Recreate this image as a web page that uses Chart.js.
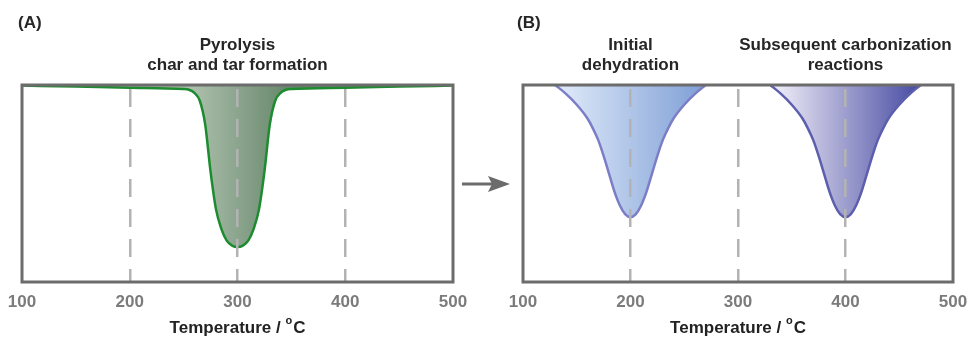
<!DOCTYPE html>
<html>
<head>
<meta charset="utf-8">
<script src="https://cdn.jsdelivr.net/npm/chart.js@4"></script>
<style>
  html, body { margin: 0; padding: 0; background: #fff; }
  #wrap { position: relative; width: 969px; height: 337px; }
  #wrap canvas, #wrap svg { position: absolute; top: 0; }
</style>
</head>
<body>
<div id="wrap">
  <canvas id="panelA" width="485" height="337" style="left:0"></canvas>
  <canvas id="panelB" width="484" height="337" style="left:485px"></canvas>
  <svg width="60" height="30" style="left:455px;top:169px">
    <line x1="7" y1="15" x2="38" y2="15" stroke="#6b6b6b" stroke-width="3"/>
    <polygon points="33,7 55,15 33,23 37,15" fill="#6b6b6b"/>
  </svg>
</div>
<script>
// temperature axis
const tempTicks = [100, 200, 300, 400, 500]

// (A) pyrolysis peak
const tempsA = [100, 150, 200, 250, 255, 260, 265, 270, 275, 280, 285, 290, 295, 300,
  305, 310, 315, 320, 325, 330, 335, 340, 345, 350, 400, 450, 500]
const signalA = [0.997, 0.992, 0.986, 0.98, 0.976, 0.96, 0.92, 0.80, 0.56, 0.37, 0.27, 0.21, 0.185, 0.178,
  0.185, 0.21, 0.27, 0.37, 0.56, 0.80, 0.92, 0.96, 0.976, 0.98, 0.986, 0.992, 0.997]

// (B) dehydration peak
const tempsB1 = [120, 130, 140, 150, 160, 165, 170, 175, 180, 185, 190, 195, 200,
  205, 210, 215, 220, 225, 230, 235, 240, 250, 260, 270, 280]
const signalB1 = [1.045, 1.0, 0.955, 0.90, 0.83, 0.78, 0.72, 0.64, 0.55, 0.46, 0.39, 0.345, 0.33,
  0.345, 0.39, 0.46, 0.55, 0.64, 0.72, 0.78, 0.83, 0.90, 0.955, 1.0, 1.045]

// (B) carbonization peak
const tempsB2 = [320, 330, 340, 350, 360, 365, 370, 375, 380, 385, 390, 395, 400,
  405, 410, 415, 420, 425, 430, 435, 440, 450, 460, 470, 480]
const signalB2 = [1.045, 1.0, 0.955, 0.90, 0.83, 0.78, 0.72, 0.64, 0.55, 0.46, 0.39, 0.345, 0.33,
  0.345, 0.39, 0.46, 0.55, 0.64, 0.72, 0.78, 0.83, 0.90, 0.955, 1.0, 1.045]

const FONT = '"Liberation Sans", Arial, Helvetica, sans-serif'

function toPoints(xs, ys) {
  return xs.map((x, i) => ({ x: x, y: ys[i] }))
}

// horizontal gradient between two temperatures
function sideGradient(from, to, c0, c1) {
  return (context) => {
    const chart = context.chart
    if (!chart.chartArea) return c0
    const x = chart.scales.x
    const g = chart.ctx.createLinearGradient(x.getPixelForValue(from), 0, x.getPixelForValue(to), 0)
    g.addColorStop(0, c0)
    g.addColorStop(1, c1)
    return g
  }
}

function peak(xs, ys, line, fill) {
  return {
    data: toPoints(xs, ys),
    borderColor: line,
    borderWidth: 2.5,
    backgroundColor: fill,
    fill: "end",
    pointRadius: 0,
    cubicInterpolationMode: "monotone",
  }
}

// panel letter, headings, axis title and frame
const panelText = {
  id: "panelText",
  afterDraw(chart, args, opts) {
    const ctx = chart.ctx
    const area = chart.chartArea
    const x = chart.scales.x
    ctx.save()
    ctx.fillStyle = "#262626"
    ctx.textBaseline = "middle"
    ctx.font = "bold 17px " + FONT
    ctx.textAlign = "left"
    ctx.fillText(opts.letter, opts.letterX, 23)
    ctx.textAlign = "center"
    opts.headings.forEach((h) => {
      h.lines.forEach((line, i) => ctx.fillText(line, x.getPixelForValue(h.at), 45 + i * 20))
    })

    // Temperature / oC with raised o
    const main = "Temperature / "
    ctx.font = "bold 17px " + FONT
    const w1 = ctx.measureText(main).width
    const w3 = ctx.measureText("C").width
    ctx.font = "bold 11px " + FONT
    const w2 = ctx.measureText("o").width + 1
    const cx = (area.left + area.right) / 2 - (w1 + w2 + w3) / 2
    ctx.textAlign = "left"
    ctx.fillStyle = "#222"
    ctx.font = "bold 17px " + FONT
    ctx.fillText(main, cx, 328)
    ctx.font = "bold 11px " + FONT
    ctx.fillText("o", cx + w1, 321)
    ctx.font = "bold 17px " + FONT
    ctx.fillText("C", cx + w1 + w2, 328)

    ctx.strokeStyle = "#6c6c6c"
    ctx.lineWidth = 3
    ctx.strokeRect(area.left, area.top, area.right - area.left, area.bottom - area.top)
    ctx.restore()
  },
}

function panelOptions(padLeft, padRight, text) {
  return {
    responsive: false,
    animation: false,
    layout: { padding: { left: padLeft, right: padRight, top: 85, bottom: 0 } },
    scales: {
      x: {
        type: "linear",
        min: 100,
        max: 500,
        afterBuildTicks: (scale) => {
          scale.ticks = tempTicks.map((v) => ({ value: v }))
        },
        afterFit: (scale) => {
          scale.height = 55
          scale.paddingLeft = 0
          scale.paddingRight = 0
        },
        border: { display: false, dash: [18, 12], dashOffset: 26 },
        grid: {
          z: 1,
          drawTicks: false,
          lineWidth: 2.5,
          color: (c) => (c.tick && c.tick.value > 100 && c.tick.value < 500 ? "#b3b3b3" : "rgba(0,0,0,0)"),
        },
        ticks: {
          padding: 10,
          color: "#7b7b7b",
          font: { family: FONT, size: 17, weight: "bold" },
        },
      },
      y: { min: 0, max: 1, display: false },
    },
    plugins: {
      legend: { display: false },
      tooltip: { enabled: false },
      panelText: text,
    },
  }
}

new Chart(document.getElementById("panelA"), {
  type: "line",
  data: {
    datasets: [peak(tempsA, signalA, "#1d8b2f", sideGradient(255, 345, "#afc1ae", "#68896d"))],
  },
  options: panelOptions(22, 32, {
    letter: "(A)",
    letterX: 18,
    headings: [{ at: 300, lines: ["Pyrolysis", "char and tar formation"] }],
  }),
  plugins: [panelText],
})

new Chart(document.getElementById("panelB"), {
  type: "line",
  data: {
    datasets: [
      peak(tempsB1, signalB1, "#7b7ec6", sideGradient(130, 272, "#e2ecfa", "#7c9dd5")),
      peak(tempsB2, signalB2, "#5c5eae", sideGradient(328, 472, "#f8f5fc", "#4347a0")),
    ],
  },
  options: panelOptions(38, 16, {
    letter: "(B)",
    letterX: 32,
    headings: [
      { at: 200, lines: ["Initial", "dehydration"] },
      { at: 400, lines: ["Subsequent carbonization", "reactions"] },
    ],
  }),
  plugins: [panelText],
})
</script>
</body>
</html>
